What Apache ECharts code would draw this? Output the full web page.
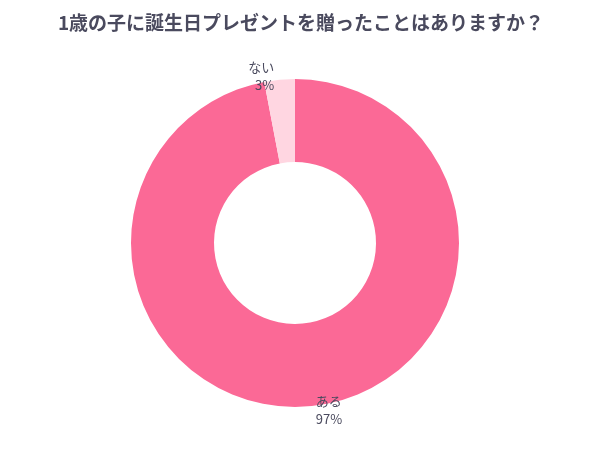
<!DOCTYPE html>
<html><head><meta charset="utf-8">
<script src="https://cdn.jsdelivr.net/npm/echarts@6/dist/echarts.min.js"></script>
<style>html,body{margin:0;background:#fff}#c{width:602px;height:451px}</style>
</head><body><div id="c"></div>
<script>
var categories = ['ある', 'ない'];
var values = [97, 3];
var colors = ['#fb6996', '#ffd6e1'];

var chart = echarts.init(document.getElementById('c'));
chart.setOption({
    title: {
        text: '1歳の子に誕生日プレゼントを贈ったことはありますか？',
        left: 'center', top: 8,
        textStyle: {fontFamily: 'Noto Sans CJK JP', fontSize: 19, fontWeight: 'bold', color: '#4a4a5e'}
    },
    series: [{
        type: 'pie',
        center: [295, 243],
        radius: [81, 164],
        startAngle: 90,
        clockwise: true,
        label: {
            show: true, position: 'outside',
            formatter: '{b}\n{d}%',
            fontFamily: 'Noto Sans CJK JP', fontSize: 13, color: '#4a4a5e', lineHeight: 18,
            align: 'center'
        },
        labelLine: {show: false, length: 4, length2: 0},
        data: categories.map(function (n, i) {
            return {name: n, value: values[i], itemStyle: {color: colors[i]}};
        })
    }]
});
</script></body></html>
